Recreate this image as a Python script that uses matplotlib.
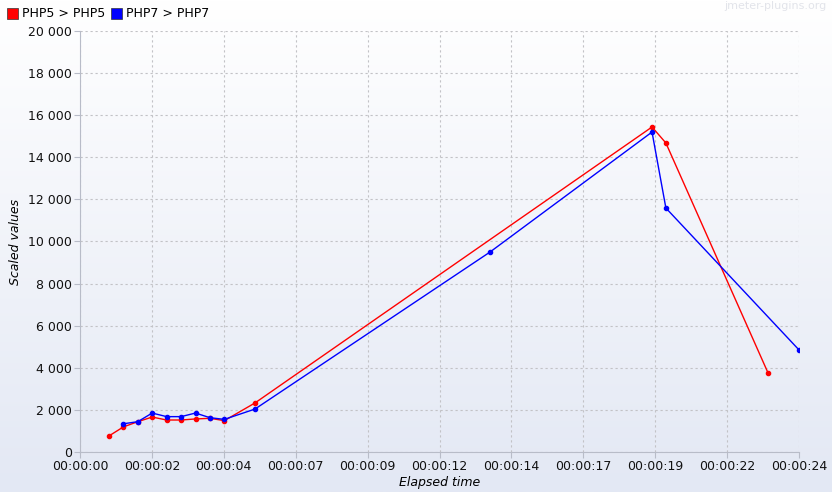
import numpy as np
import matplotlib.pyplot as plt
from matplotlib.patches import Rectangle
from matplotlib.ticker import FuncFormatter, MultipleLocator

# elapsed seconds / scaled values
php5_t = [1.0, 1.5, 2.0, 2.5, 3.0, 3.5, 4.0, 4.5, 5.0, 6.06, 19.81, 20.29, 23.83]
php5_v = [760, 1190, 1440, 1660, 1520, 1520, 1570, 1600, 1490, 2330, 15440, 14680, 3750]
php7_t = [1.5, 2.0, 2.5, 3.0, 3.5, 4.0, 4.5, 5.0, 6.06, 14.2, 19.81, 20.29, 24.9]
php7_v = [1340, 1440, 1850, 1680, 1680, 1850, 1630, 1550, 2040, 9500, 15200, 11590, 4850]
series_names = ["PHP5 > PHP5", "PHP7 > PHP7"]
series_colors = ["#ff0000", "#0000ff"]
t_max = 24.9

fig = plt.figure(figsize=(8.32, 4.92), dpi=100)

# background gradient (white at top -> pale blue at bottom)
bg = fig.add_axes([0, 0, 1, 1], zorder=-10)
grad = np.linspace(0, 1, 256).reshape(-1, 1)
top = np.array([1.0, 1.0, 1.0])
bot = np.array([0xe3, 0xe8, 0xf4]) / 255
img = top + (bot - top) * grad[..., None]
bg.imshow(img, aspect="auto", extent=[0, 1, 0, 1])
bg.axis("off")

ax = fig.add_axes([80 / 832, 1 - 452 / 492, 719 / 832, 421 / 492])
ax.patch.set_alpha(0)

ax.plot(php5_t, php5_v, color=series_colors[0], lw=1, marker="o", ms=3)
ax.plot(php7_t, php7_v, color=series_colors[1], lw=1, marker="o", ms=3)

ax.set_xlim(0, t_max)
ax.set_ylim(0, 20000)
ax.set_xticks([k * t_max / 10 for k in range(11)])


def hms(x, pos):
    s = int(x + 1e-9)
    return "%02d:%02d:%02d" % (s // 3600, (s // 60) % 60, s % 60)


ax.xaxis.set_major_formatter(FuncFormatter(hms))
ax.yaxis.set_major_locator(MultipleLocator(2000))
ax.yaxis.set_major_formatter(FuncFormatter(lambda v, p: "{:,}".format(int(v)).replace(",", " ")))

ax.grid(True, color="#c2c2c6", ls=(0, (2, 2.5)), lw=0.8)
for s in ["top", "right"]:
    ax.spines[s].set_visible(False)
for s in ["left", "bottom"]:
    ax.spines[s].set_color("#b8bcc8")
ax.tick_params(colors="#b8bcc8", labelcolor="#111111", labelsize=9, length=4, pad=2)

ax.set_xlabel("Elapsed time", style="italic", fontsize=9, labelpad=2)
ax.set_ylabel("Scaled values", style="italic", fontsize=9, labelpad=4)

# legend row at top-left
x0 = 7
for name, col in zip(series_names, series_colors):
    fig.add_artist(Rectangle((x0 / 832, 1 - 19 / 492), 11 / 832, 11 / 492,
                             transform=fig.transFigure, facecolor=col,
                             edgecolor="#333333", lw=0.5))
    fig.text((x0 + 15) / 832, 1 - 13.5 / 492, name, fontsize=9, va="center")
    x0 += 104

fig.text(827 / 832, 1 - 6 / 492, "jmeter-plugins.org", color="#e2e4ea",
         fontsize=8, ha="right", va="center")

fig.savefig("out.png", dpi=100)
